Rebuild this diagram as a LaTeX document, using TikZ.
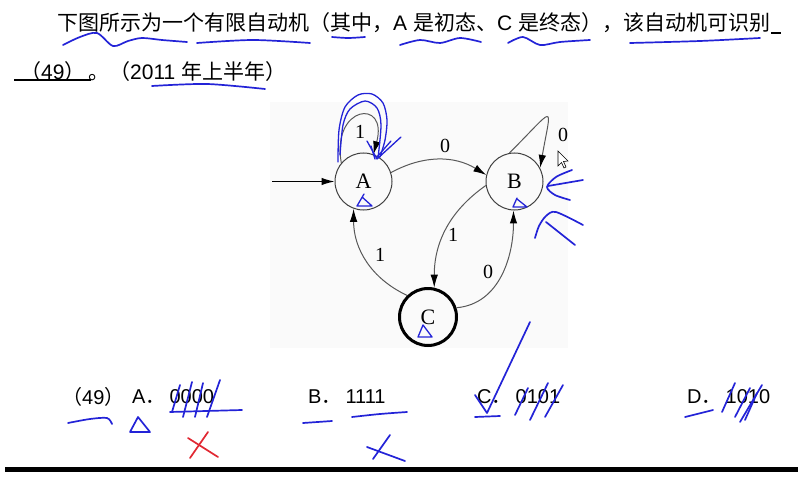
\documentclass[tikz,border=0pt]{standalone}
\usepackage{fontspec}
\setmainfont{Liberation Sans}
\newfontfamily\cjk{Noto Sans CJK SC}
\newfontfamily\figfont{Liberation Serif}
\usetikzlibrary{arrows.meta}
\definecolor{penblue}{RGB}{35,35,215}
\definecolor{penred}{RGB}{225,40,50}
\tikzset{
  state/.style={draw=black!75, circle, minimum size=57pt, inner sep=0pt, line width=1pt, font=\figfont\fontsize{22}{22}\selectfont},
  final/.style={state, draw=black, line width=3pt},
  edge/.style={draw=black!65, line width=1pt, -{Latex[length=13pt,width=7.5pt,fill=black,color=black]}},
  lbl/.style={font=\figfont\fontsize{20}{20}\selectfont, inner sep=0pt},
  ink/.style={draw=penblue, line width=1.7pt, line cap=round, line join=round},
  thinink/.style={ink, line width=1.3pt},
  redink/.style={ink, draw=penred},
  question/.style={font=\fontsize{21}{22}\selectfont, inner sep=0pt, anchor=west},
  choice/.style={font=\fontsize{20}{20}\selectfont, inner sep=0pt, anchor=west}
}
\begin{document}
\begin{tikzpicture}[x=1pt, y=1pt]
  \useasboundingbox (0,0) rectangle (803,483);
  % question text
  \node[question] (q1) at (57,460) {{\cjk 下图所示为一个有限自动机（其中，}A {\cjk 是初态、}C {\cjk 是终态），该自动机可识别}};
  \draw[line width=1.5pt] ([xshift=1pt,yshift=-10pt]q1.east) -- ++(10,0);
  \node[question] (q2a) at (20,411) {{\cjk （}49{\cjk ）}};
  \node[question] (q2b) at (88,411) {{\cjk 。（}2011 {\cjk 年上半年）}};
  \draw[line width=1.5pt] (14,403) -- (91,403);
  % automaton
  \fill[black!2] (270,135) rectangle (568,381);
  \node[state] (A) at (363.5,301.5) {A};
  \node[state] (B) at (514.5,301.5) {B};
  \node[final] (C) at (428,166) {C};
  \coordinate (start) at (272,301.5);
  \draw[edge, draw=black, line width=1.2pt] (start) -- (A);
  \draw[edge] (A.140) to[out=100, in=75, looseness=4.5] (A.70);
  \draw[edge] (A.18) to[bend left=30] (B.167);
  \draw[edge] (B.100) to[out=45, in=80, looseness=5] (B.28);
  \draw[edge] (B.188) to[out=215, in=90] (C.78);
  \draw[edge] (C.18) to[out=5, in=270] (B.268);
  \draw[edge] (C.134) to[out=155, in=270] (A.250);
  \node[lbl] (lAA) at (360,351) {1};
  \node[lbl] (lAB) at (445,337) {0};
  \node[lbl] (lBB) at (563,348) {0};
  \node[lbl] (lBC) at (453,248) {1};
  \node[lbl] (lCB) at (488,211) {0};
  \node[lbl] (lCA) at (380,228) {1};
  % choices
  \node[choice] (num) at (62,86) {{\cjk （}49{\cjk ）}};
  \node[choice] (optA) at (132,86) {A{\cjk ．}\hspace{4pt}0000};
  \node[choice] (optB) at (308,86) {B{\cjk ．}\hspace{4pt}1111};
  \node[choice] (optC) at (477,86) {C{\cjk ．}\hspace{4pt}0101};
  \node[choice] (optD) at (687,86) {D{\cjk ．}\hspace{4pt}1010};
  \fill (5,11) rectangle (798,16);
  % pen marks
  \begin{scope}[yshift=483pt, yscale=-1]
    \draw[ink] plot[smooth] coordinates {(63,45) (80,37) (97,33) (113,46) (128,41) (142,38) (162,40) (187,42)};
    \draw[ink] plot[smooth] coordinates {(197,43) (253,40) (310,43)};
    \draw[ink] plot[smooth] coordinates {(332,37) (348,38) (365,37)};
    \draw[ink] plot[smooth] coordinates {(400,45) (420,40) (440,43) (460,38) (481,42)};
    \draw[ink] plot[smooth] coordinates {(508,43) (523,37) (540,45) (560,42) (590,40)};
    \draw[ink] plot[smooth] coordinates {(630,43) (700,41) (760,38)};
    \draw[ink] plot[smooth] coordinates {(152,86) (207,84) (265,89)};
    \draw[thinink] plot[smooth] coordinates {(338,162) (339,130) (345,107) (358,95) (372,94) (383,103) (387,120) (385,140) (380,157)};
    \draw[thinink] plot[smooth] coordinates {(340,155) (343,125) (350,109) (365,101) (377,108) (381,125) (378,158)};
    \draw[thinink] (367,141) -- (377,159) -- (401,137);
    \draw[thinink] (377,157) -- (391,141);
    \draw[thinink] (371,146) -- (375,159);
    \draw[thinink] (364,194) -- (357,206) -- (372,206) -- (362,197);
    \draw[thinink] (517,198) -- (513,207) -- (527,207) -- (517,199);
    \draw[thinink] (423,325) -- (418,337) -- (432,337) -- cycle;
    \draw[ink] plot[smooth] coordinates {(572,170) (556,177) (547,187) (555,195) (570,200)};
    \draw[ink] (548,186) -- (583,180);
    \draw[ink] plot[smooth] coordinates {(535,238) (539,226) (546,216) (556,212) (583,225)};
    \draw[ink] (546,222) -- (575,245);
    \draw[ink] (475,395) -- (487,413) -- (530,322);
    \draw[ink] (475,417) -- (500,416);
    \draw[ink] plot[smooth] coordinates {(68,423) (90,419) (107,418) (112,424)};
    \draw[ink] (138,417) -- (130,432) -- (150,432) -- cycle;
    \draw[ink] (172,412) -- (180,385);
    \draw[ink] (183,417) -- (192,382);
    \draw[ink] (195,417) -- (203,383);
    \draw[ink] (207,417) -- (220,380);
    \draw[ink] (170,412) -- (242,410);
    \draw[redink] (190,458) -- (208,432);
    \draw[redink] (188,438) -- (218,457);
    \draw[ink] (303,423) -- (332,421);
    \draw[ink] plot[smooth] coordinates {(352,417) (380,414) (407,412)};
    \draw[ink] (373,459) -- (390,435);
    \draw[ink] (367,447) -- (405,461);
    \draw[ink] (515,415) -- (528,388);
    \draw[ink] (530,420) -- (548,383);
    \draw[ink] (545,417) -- (563,385);
    \draw[ink] (685,417) -- (713,410);
    \draw[ink] (722,412) -- (735,383);
    \draw[ink] (735,417) -- (750,388);
    \draw[ink] (740,422) -- (762,385);
    \draw[ink] (745,420) -- (757,393);
    \draw[fill=white, line width=0.6pt] (558,151) -- (558,166) -- (561.5,162.5) -- (564,168) -- (566,167) -- (563.5,161.5) -- (568,161) -- cycle;
  \end{scope}
\end{tikzpicture}
\end{document}
